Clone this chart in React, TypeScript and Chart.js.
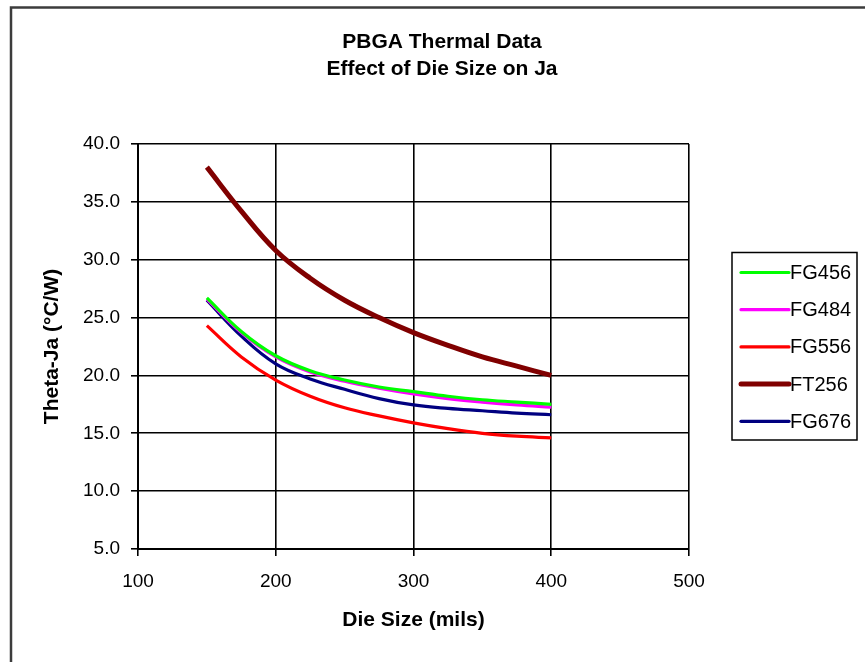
import React, { useEffect, useRef } from 'react';
import { Chart, registerables } from 'chart.js';

Chart.register(...registerables);

// ---- data ----
const dieSizes = [150, 175, 200, 225, 250, 275, 300, 325, 350, 375, 400];
const fg456 = [26.7, 23.8, 21.7, 20.4, 19.6, 19.0, 18.6, 18.2, 17.9, 17.7, 17.5];
const fg484 = [26.6, 23.7, 21.6, 20.3, 19.5, 18.9, 18.4, 18.0, 17.7, 17.45, 17.25];
const fg556 = [24.3, 21.6, 19.6, 18.2, 17.2, 16.5, 15.9, 15.4, 15.0, 14.75, 14.6];
const ft256 = [38.0, 34.2, 30.8, 28.4, 26.5, 25.0, 23.7, 22.6, 21.6, 20.8, 20.0];
const fg676 = [26.5, 23.4, 21.0, 19.7, 18.8, 18.0, 17.45, 17.15, 16.95, 16.75, 16.6];

const seriesNames = ['FG456', 'FG484', 'FG556', 'FT256', 'FG676'];
const seriesValues = [fg456, fg484, fg556, ft256, fg676];
const seriesColors = ['#00FF00', '#FF00FF', '#FF0000', '#800000', '#000080'];
const seriesWidths = [3.2, 3.2, 3.2, 5, 3.2];

const xMin = 100, xMax = 500, xStep = 100;
const yMin = 5, yMax = 40, yStep = 5;

const titleLines = ['PBGA Thermal Data', 'Effect of Die Size on Ja'];
const xTitle = 'Die Size (mils)';
const yTitle = 'Theta-Ja (\u00B0C/W)';

const FONT = "'Liberation Sans', Arial, Helvetica, sans-serif";

const W = 865, H = 662;

const decorPlugin = {
  id: 'decor',
  beforeDraw(chart: any) {
    const ctx = chart.ctx;
    ctx.save();
    ctx.fillStyle = '#fff';
    ctx.fillRect(0, 0, W, H);
    // outer frame
    ctx.strokeStyle = '#3c3c3c';
    ctx.lineWidth = 2.5;
    ctx.beginPath();
    ctx.moveTo(11, H + 5);
    ctx.lineTo(11, 7.5);
    ctx.lineTo(W + 5, 7.5);
    ctx.stroke();
    // title
    ctx.fillStyle = '#000';
    ctx.font = `bold 21px ${FONT}`;
    ctx.textAlign = 'center';
    ctx.textBaseline = 'middle';
    ctx.fillText(titleLines[0], 442, 42);
    ctx.fillText(titleLines[1], 442, 69);
    ctx.restore();
  },
  afterDraw(chart: any) {
    const ctx = chart.ctx;
    ctx.save();
    const bx = 732, by = 252.5, bw = 125, bh = 187.5;
    ctx.strokeStyle = '#000';
    ctx.lineWidth = 1.5;
    ctx.strokeRect(bx, by, bw, bh);
    ctx.font = `20px ${FONT}`;
    ctx.textAlign = 'left';
    ctx.textBaseline = 'middle';
    chart.data.datasets.forEach((ds: any, i: number) => {
      const y = 272.5 + i * 37.2;
      ctx.strokeStyle = ds.borderColor;
      ctx.lineWidth = ds.borderWidth;
      ctx.lineCap = 'round';
      ctx.beginPath();
      ctx.moveTo(741, y);
      ctx.lineTo(789, y);
      ctx.stroke();
      ctx.fillStyle = '#000';
      ctx.fillText(ds.label, 790, y + 1);
    });
    ctx.restore();
  },
};

export default function App() {
  const ref = useRef<HTMLCanvasElement>(null);
  useEffect(() => {
    document.body.style.margin = '0';
    const canvas = ref.current!;
    const chart = new Chart(canvas, {
      type: 'line',
      data: {
        datasets: seriesNames.map((name, i) => ({
          label: name,
          data: dieSizes.map((x, j) => ({ x, y: seriesValues[i][j] })),
          borderColor: seriesColors[i],
          backgroundColor: seriesColors[i],
          borderWidth: seriesWidths[i],
          pointRadius: 0,
          tension: 0.4,
          fill: false,
        })),
      },
      options: {
        responsive: false,
        animation: false,
        devicePixelRatio: 1,
        layout: { padding: { top: 144, right: 176, left: 0, bottom: 0 } },
        plugins: {
          legend: { display: false },
          title: { display: false },
          tooltip: { enabled: false },
        },
        scales: {
          x: {
            type: 'linear',
            min: xMin,
            max: xMax,
            afterFit: (s: any) => { s.height = H - 549; },
            ticks: {
              stepSize: xStep,
              color: '#000',
              font: { family: FONT, size: 19 },
              padding: 14,
              maxRotation: 0,
            },
            grid: { color: '#000', lineWidth: 1.6, tickLength: 7, drawTicks: true },
            border: { color: '#000', width: 2 },
            title: {
              display: true,
              text: xTitle,
              color: '#000',
              font: { family: FONT, size: 21, weight: 'bold' },
              padding: { top: 0, bottom: 29 },
            },
          },
          y: {
            type: 'linear',
            min: yMin,
            max: yMax,
            afterFit: (s: any) => { s.width = 138; },
            ticks: {
              stepSize: yStep,
              color: '#000',
              font: { family: FONT, size: 19 },
              padding: 11,
              callback: (v: any) => Number(v).toFixed(1),
            },
            grid: { color: '#000', lineWidth: 1.6, tickLength: 7, drawTicks: true },
            border: { color: '#000', width: 2 },
            title: {
              display: true,
              text: yTitle,
              color: '#000',
              font: { family: FONT, size: 21, weight: 'bold' },
              padding: { top: 40, bottom: 0 },
            },
          },
        },
      },
      plugins: [decorPlugin],
    } as any);
    return () => chart.destroy();
  }, []);
  return <canvas ref={ref} width={W} height={H} style={{ display: 'block', width: W, height: H }} />;
}
